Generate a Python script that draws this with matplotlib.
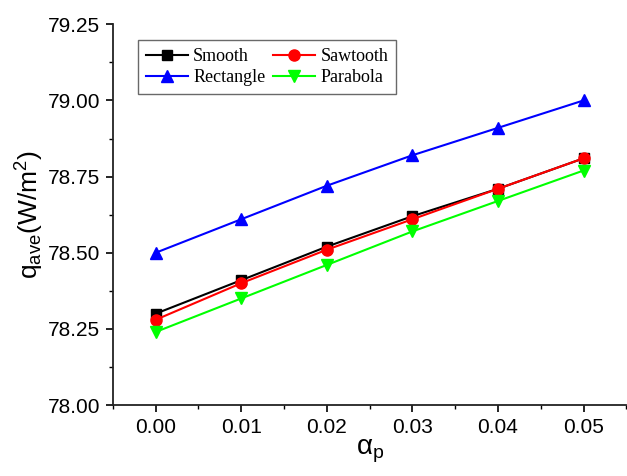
import numpy as np
import matplotlib
matplotlib.use("Agg")
import matplotlib.pyplot as plt
from matplotlib.ticker import MultipleLocator

alpha_p = [0.00, 0.01, 0.02, 0.03, 0.04, 0.05]
smooth = [78.30, 78.41, 78.52, 78.62, 78.71, 78.81]
sawtooth = [78.28, 78.40, 78.51, 78.61, 78.71, 78.81]
rectangle = [78.50, 78.61, 78.72, 78.82, 78.91, 79.00]
parabola = [78.24, 78.35, 78.46, 78.57, 78.67, 78.77]

plt.rcParams['font.family'] = 'Liberation Sans'
plt.rcParams['mathtext.fontset'] = 'custom'
plt.rcParams['mathtext.rm'] = 'Liberation Sans'
plt.rcParams['mathtext.it'] = 'Liberation Sans'

fig = plt.figure(figsize=(6.27, 4.76), dpi=100)
ax = fig.add_axes([0.180, 0.149, 0.819, 0.800])

l1, = ax.plot(alpha_p, smooth, color="black", marker="s", ms=7, lw=1.5, label="Smooth")
l2, = ax.plot(alpha_p, sawtooth, color="red", marker="o", ms=8, lw=1.5, label="Sawtooth")
l3, = ax.plot(alpha_p, rectangle, color="blue", marker="^", ms=8, lw=1.5, label="Rectangle")
l4, = ax.plot(alpha_p, parabola, color="#00ff00", marker="v", ms=8, lw=1.5, label="Parabola")

ax.set_xlim(-0.005, 0.055)
ax.set_ylim(78.0, 79.25)
ax.set_xticks(alpha_p)
ax.set_xticklabels([f"{v:.2f}" for v in alpha_p])
ax.yaxis.set_major_locator(MultipleLocator(0.25))
ax.yaxis.set_minor_locator(MultipleLocator(0.125))
ax.xaxis.set_minor_locator(MultipleLocator(0.005))
ax.yaxis.set_major_formatter(matplotlib.ticker.FormatStrFormatter("%.2f"))

for side in ["top", "right"]:
    ax.spines[side].set_visible(False)
for side in ["left", "bottom"]:
    ax.spines[side].set_linewidth(1.3)
    ax.spines[side].set_color("#222222")

ax.tick_params(which="major", direction="out", length=5, width=1.2, labelsize=15, pad=4)
ax.tick_params(which="minor", direction="out", length=3, width=1.0)

ax.set_xlabel(r"$\alpha_{\mathrm{p}}$", fontsize=20, labelpad=1)
ax.set_ylabel(r"q$_{\mathrm{ave}}$(W/m$^{2}$)", fontsize=19, labelpad=1)

# column-wise fill: Smooth/Rectangle in col 1, Sawtooth/Parabola in col 2
leg = ax.legend([l1, l3, l2, l4], ["Smooth", "Rectangle", "Sawtooth", "Parabola"],
                ncol=2, loc="upper left", bbox_to_anchor=(0.049, 0.958),
                prop={"family": "Liberation Serif", "size": 13},
                frameon=True, fancybox=False, handlelength=2.3, columnspacing=0.45,
                handletextpad=0.3, borderpad=0.45, labelspacing=0.22, borderaxespad=0)
leg.get_frame().set_edgecolor("#444444")
leg.get_frame().set_linewidth(1.0)

fig.savefig("out.png", dpi=100)
